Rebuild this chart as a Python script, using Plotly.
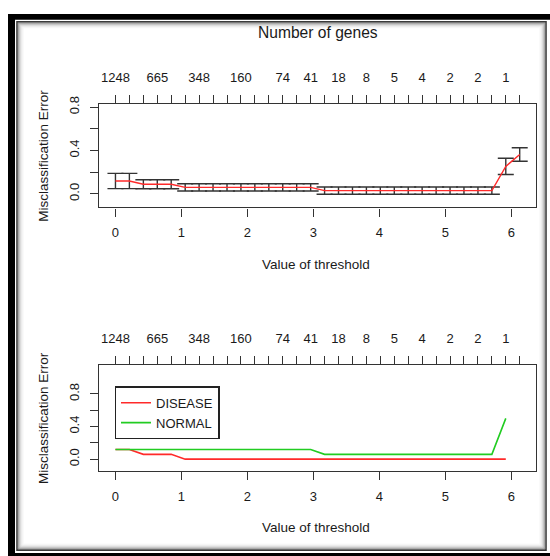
import plotly.graph_objects as go

# ---------------- data ----------------
thresholds = [0.000, 0.211, 0.423, 0.634, 0.845, 1.057, 1.268, 1.479, 1.691, 1.902,
              2.113, 2.325, 2.536, 2.747, 2.959, 3.170, 3.381, 3.593, 3.804, 4.015,
              4.227, 4.438, 4.649, 4.861, 5.072, 5.283, 5.495, 5.706, 5.917, 6.128]
gene_labels = ["1248", "", "", "665", "", "", "348", "", "", "160",
               "", "", "74", "", "41", "", "18", "", "8", "",
               "5", "", "4", "", "2", "", "2", "", "1", ""]
overall_error = [0.118, 0.118, 0.088, 0.088, 0.088, 0.059, 0.059, 0.059, 0.059, 0.059,
                 0.059, 0.059, 0.059, 0.059, 0.059, 0.029, 0.029, 0.029, 0.029, 0.029,
                 0.029, 0.029, 0.029, 0.029, 0.029, 0.029, 0.029, 0.029, 0.253, 0.362]
overall_se = [0.070, 0.070, 0.042, 0.042, 0.042, 0.034, 0.034, 0.034, 0.034, 0.034,
              0.034, 0.034, 0.034, 0.034, 0.034, 0.034, 0.034, 0.034, 0.034, 0.034,
              0.034, 0.034, 0.034, 0.034, 0.034, 0.034, 0.034, 0.034, 0.075, 0.062]
class_thresholds = thresholds[:29]
disease_error = [0.118, 0.118, 0.059, 0.059, 0.059] + [0.0] * 24
normal_error = [0.118] * 15 + [0.059] * 13 + [0.5]
x_ticks = [0, 1, 2, 3, 4, 5, 6]
y_ticks = [0.0, 0.2, 0.4, 0.6, 0.8]
y_tick_text = ["0.0", "", "0.4", "", "0.8"]

# ---------------- styling ----------------
W, H = 550, 556
FONT = "Liberation Sans, Arial, sans-serif"
TXT = "#1a1a1a"
AX = "#333333"


def px(x):
    return x / W


def py(y):
    return 1 - y / H


x_dom = [px(99.3), px(536.0)]
top_dom = [py(202.3), py(97.7)]
bot_dom = [py(470.0), py(362.7)]
x_range = [-0.245, 6.375]

fig = go.Figure()

# top panel: error bars then red line
fig.add_trace(go.Scatter(
    x=thresholds, y=overall_error, mode="markers",
    marker=dict(size=1, color="rgba(0,0,0,0)"),
    error_y=dict(type="data", array=overall_se, color=AX, thickness=1.4, width=8),
    xaxis="x", yaxis="y", showlegend=False, hoverinfo="skip"))
fig.add_trace(go.Scatter(
    x=thresholds, y=overall_error, mode="lines",
    line=dict(color="#ff2a2a", width=1.4),
    xaxis="x3", yaxis="y", showlegend=False))

# bottom panel
fig.add_trace(go.Scatter(
    x=class_thresholds, y=disease_error, mode="lines", name="DISEASE",
    line=dict(color="#ff2a2a", width=1.6), xaxis="x2", yaxis="y2"))
fig.add_trace(go.Scatter(
    x=class_thresholds, y=normal_error, mode="lines", name="NORMAL",
    line=dict(color="#22cc22", width=1.6), xaxis="x4", yaxis="y2"))

common_x = dict(range=x_range, showgrid=False, zeroline=False, ticks="outside",
                ticklen=8, tickwidth=1.3, tickcolor=AX,
                tickfont=dict(family=FONT, size=13, color=TXT))
bottom_x = dict(common_x, tickvals=x_ticks, showline=True, linecolor=AX,
                linewidth=1.3, mirror=True, ticklabelstandoff=5, domain=x_dom)
top_x = dict(common_x, tickvals=thresholds, ticktext=gene_labels, side="top",
             showline=False, ticklabelstandoff=8)
common_y = dict(showgrid=False, zeroline=False, ticks="outside", ticklen=8,
                tickwidth=1.3, tickcolor=AX, tickvals=y_ticks, ticktext=y_tick_text,
                tickangle=-90, showline=True, linecolor=AX, linewidth=1.3,
                mirror=True, ticklabelstandoff=6,
                tickfont=dict(family=FONT, size=13, color=TXT))

fig.update_layout(
    width=W, height=H, margin=dict(l=0, r=0, t=0, b=0),
    paper_bgcolor="white", plot_bgcolor="white",
    font=dict(family=FONT, size=13, color=TXT),
    xaxis=dict(bottom_x, anchor="y"),
    yaxis=dict(common_y, domain=top_dom, range=[-0.1255, 0.8255], anchor="x"),
    xaxis3=dict(top_x, overlaying="x", anchor="y"),
    xaxis2=dict(bottom_x, anchor="y2"),
    yaxis2=dict(common_y, domain=bot_dom, range=[-0.148, 1.148], anchor="x2"),
    xaxis4=dict(top_x, overlaying="x2", anchor="y2"),
    legend=dict(x=px(114.7), y=py(384), xanchor="left", yanchor="top",
                bgcolor="white", bordercolor="#222222", borderwidth=1.3,
                font=dict(family=FONT, size=13, color=TXT),
                itemwidth=30, tracegroupgap=0),
    showlegend=True,
)

# titles
ann = [
    dict(text="Number of genes", x=px(317.7), y=py(25), font=dict(size=15.6)),
    dict(text="Value of threshold", x=px(316), y=py(260), font=dict(size=13.5)),
    dict(text="Value of threshold", x=px(316), y=py(526.7), font=dict(size=13.5)),
    dict(text="Misclassification Error", x=px(43.8), y=py(150), textangle=-90,
         font=dict(size=13.5)),
    dict(text="Misclassification Error", x=px(43.8), y=py(416.3), textangle=-90,
         font=dict(size=13.5)),
]
for a in ann:
    a.update(xref="paper", yref="paper", showarrow=False, xanchor="center",
             yanchor="middle")
    a["font"].update(family=FONT, color=TXT)
fig.update_layout(annotations=ann)

# decorative frame around the picture
shapes = []


def rect(x0, y0, x1, y1, fill=None, line=None, lw=0):
    d = dict(type="rect", xref="paper", yref="paper",
             x0=px(x0), x1=px(x1), y0=py(y1), y1=py(y0), layer="above")
    if fill:
        d["fillcolor"] = fill
    d["line"] = dict(color=line or "rgba(0,0,0,0)", width=lw)
    return d


shapes.append(rect(8, 6, 552, 12, fill="black"))
shapes.append(rect(8, 6, 15, 558, fill="black"))
shapes.append(rect(8, 553, 552, 558, fill="black"))
# inner dark line + soft shadow
shadow = ["#3a3a3a", "#6a6a6a", "#9a9a9a", "#bdbdbd", "#d8d8d8", "#eaeaea", "#f5f5f5"]
for i, c in enumerate(shadow):
    o = 17 + i
    shapes.append(dict(type="rect", xref="paper", yref="paper",
                       x0=px(o), x1=px(546 - i), y0=py(550 - i), y1=py(14 + i),
                       line=dict(color=c, width=1.6 if i == 0 else 1),
                       layer="above"))
fig.update_layout(shapes=shapes)

fig.write_html(
    "out.html",
    config={"displayModeBar": False, "responsive": False},
    post_script=(
        "document.documentElement.style.margin='0';"
        "document.body.style.margin='0';document.body.style.overflow='hidden';"
        "var gd=document.getElementsByClassName('plotly-graph-div')[0];"
        "gd.style.position='fixed';gd.style.top='0px';gd.style.left='0px';"
    ),
)
